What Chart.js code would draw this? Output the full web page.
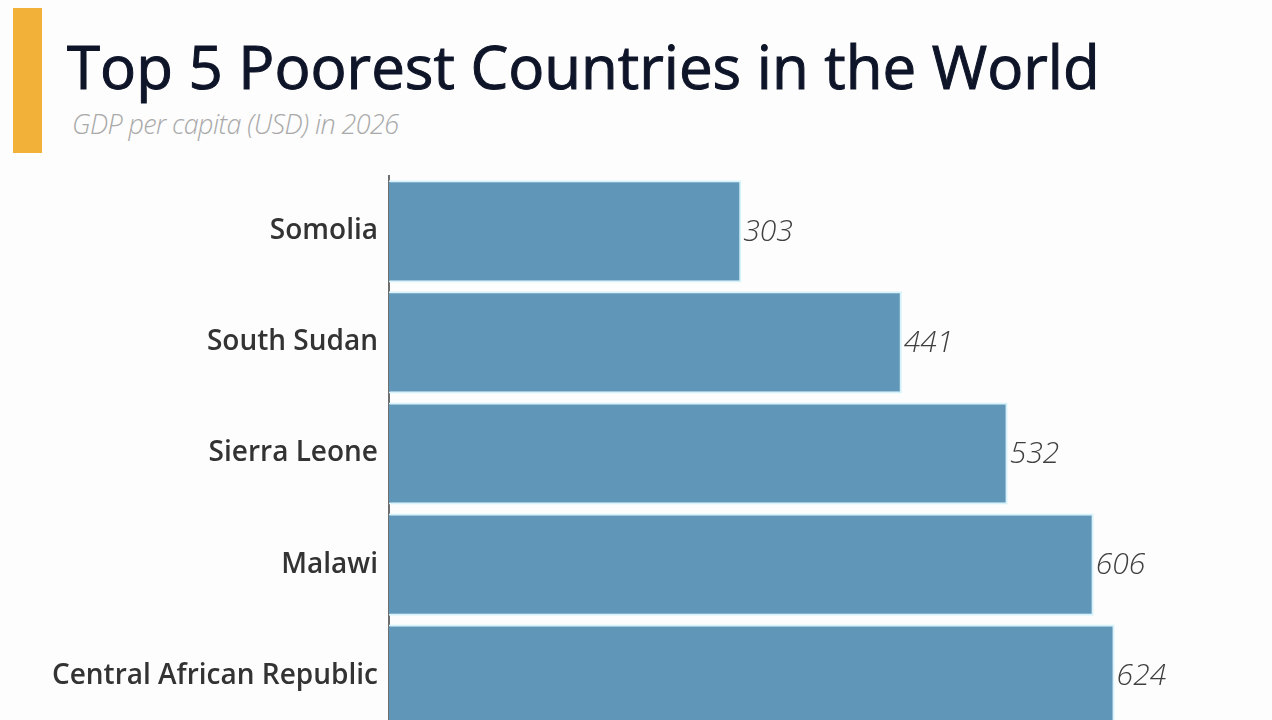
<!DOCTYPE html>
<html>
<head>
<meta charset="utf-8">
<script src="https://cdn.jsdelivr.net/npm/chart.js@4/dist/chart.umd.min.js"></script>
<style>
  html, body { margin: 0; padding: 0; background: #fdfdfd; overflow: hidden; }
  body { width: 1272px; height: 720px; position: relative; font-family: "Open Sans", sans-serif; }
  #accent { position: absolute; left: 13px; top: 8px; width: 29px; height: 145px; background: #f2b23a; }
  #title { position: absolute; left: 67px; top: 36px; font-size: 60px; font-weight: 400; -webkit-text-stroke: 1px #0f1529; color: #0f1529; line-height: 1; white-space: nowrap; }
  #subtitle { position: absolute; left: 72px; top: 108px; font-size: 27px; font-style: italic; font-weight: 300; color: #a9a9a9; letter-spacing: -0.6px; line-height: 1.2; white-space: nowrap; }
  #wrap { position: absolute; left: 0; top: 148px; width: 1272px; height: 611px; }
</style>
</head>
<body>
<div id="accent"></div>
<div id="title">Top 5 Poorest Countries in the World</div>
<div id="subtitle">GDP per capita (USD) in 2026</div>
<div id="wrap"><canvas id="gdp-chart"></canvas></div>
<script>
// Chart data
var countries = ["Somolia", "South Sudan", "Sierra Leone", "Malawi", "Central African Republic"];
var gdpPerCapita = [303, 441, 532, 606, 624];

// value labels at the end of each bar
var valueLabels = {
    id: 'valueLabels',
    afterDatasetsDraw: function(chart) {
        var ctx = chart.ctx;
        var meta = chart.getDatasetMeta(0);
        ctx.save();
        ctx.font = 'italic 300 30px "Open Sans"';
        ctx.fillStyle = '#3f3f3f';
        ctx.textAlign = 'left';
        ctx.textBaseline = 'middle';
        meta.data.forEach(function(bar, i) {
            ctx.fillText(gdpPerCapita[i], bar.x + 2, bar.y + 1);
        });
        ctx.restore();
    }
};

var ctx = document.getElementById('gdp-chart');

var config = {
    type: 'bar',
    data: {
        labels: countries,
        datasets: [{
            data: gdpPerCapita,
            backgroundColor: '#6097b9',
            borderColor: '#d6f2fb',
            borderWidth: 2,
            borderSkipped: 'start',
            barPercentage: 0.92,
            categoryPercentage: 1
        }]
    },
    options: {
        indexAxis: 'y',
        responsive: true,
        maintainAspectRatio: false,
        animation: false,
        layout: { padding: { top: 0, right: 69, bottom: 0, left: 0 } },
        plugins: {
            legend: { display: false },
            tooltip: { enabled: false }
        },
        scales: {
            x: {
                display: false,
                min: 0,
                max: 700
            },
            y: {
                grid: { display: false, drawTicks: false },
                border: { display: true, color: '#6e6e6e', width: 2 },
                ticks: {
                    padding: 11,
                    color: '#333333',
                    font: { family: 'Open Sans', size: 28, weight: 600 }
                },
                afterFit: function(scale) { scale.width = 389; }
            }
        }
    },
    plugins: [valueLabels]
};

var gdpChart = new Chart(ctx, config);
</script>
</body>
</html>
